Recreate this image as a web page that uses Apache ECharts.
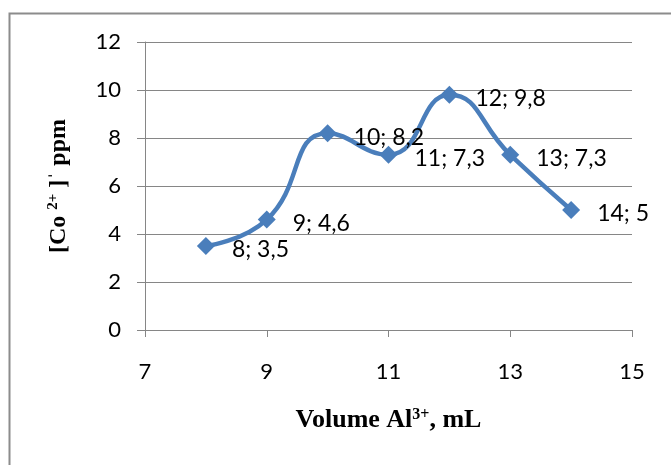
<!DOCTYPE html>
<html><head><meta charset="utf-8">
<script src="https://cdn.jsdelivr.net/npm/echarts@6/dist/echarts.min.js"></script>
<style>html,body{margin:0;padding:0;background:#fff}#c{width:671px;height:465px}</style>
</head><body><div id="c"></div>
<script>
const volumes = [8, 9, 10, 11, 12, 13, 14];
const cobalt = [3.5, 4.6, 8.2, 7.3, 9.8, 7.3, 5];
const xTicks = [7, 9, 11, 13, 15];
const yTicks = [0, 2, 4, 6, 8, 10, 12];

const chart = echarts.init(document.getElementById('c'));
const fmt = v => String(v).replace('.', ',');
chart.setOption({
  animation: false,
  graphic: [{type:'rect', shape:{x:9.5,y:13.5,width:700,height:500}, style:{fill:null, stroke:'#8c8c8c', lineWidth:2}}],
  grid: {left:145, right:39, top:42, bottom:135},
  xAxis: {
    type:'value', min:xTicks[0], max:xTicks[xTicks.length-1], interval:2,
    axisLine:{lineStyle:{color:'#868686', width:1}},
    axisTick:{show:true, length:7, lineStyle:{color:'#868686'}},
    splitLine:{show:false},
    axisLabel:{color:'#000', fontFamily:'Lato', fontSize:22, margin:31},
    name:'{a|Volume Al}{s|3+}{a|, mL}', nameLocation:'middle', nameGap:77,
    nameTextStyle:{rich:{
      a:{fontFamily:'Liberation Serif', fontWeight:'bold', fontSize:26, color:'#000'},
      s:{fontFamily:'Liberation Serif', fontWeight:'bold', fontSize:16, color:'#000', padding:[0,0,10,0]}
    }}
  },
  yAxis: {
    type:'value', min:yTicks[0], max:yTicks[yTicks.length-1], interval:2,
    axisLine:{show:true, lineStyle:{color:'#868686', width:1}},
    axisTick:{show:true, length:8, lineStyle:{color:'#868686'}},
    splitLine:{show:true, lineStyle:{color:'#868686', width:1}},
    axisLabel:{color:'#000', fontFamily:'Lato', fontSize:22, margin:24},
    name:'{a|[Co }{s|2+}{a| ]ˈ ppm}', nameLocation:'middle', nameGap:74, nameRotate:90,
    nameTextStyle:{rich:{
      a:{fontFamily:'Liberation Serif', fontWeight:'bold', fontSize:24, color:'#000'},
      s:{fontFamily:'Liberation Serif', fontWeight:'bold', fontSize:15, color:'#000', padding:[0,0,10,0]}
    }}
  },
  series: [{
    type:'line', smooth:0.5,
    data: volumes.map((v,i)=>[v, cobalt[i]]),
    symbol:'diamond', symbolSize:18,
    lineStyle:{color:'#4a7ebb', width:4.5},
    itemStyle:{color:'#4a7ebb'},
    label:{show:true, position:'right', distance:17, offset:[0,4], color:'#000', fontFamily:'Lato', fontSize:23,
      formatter: p => p.value[0] + '; ' + fmt(p.value[1])}
  }]
});
</script></body></html>
